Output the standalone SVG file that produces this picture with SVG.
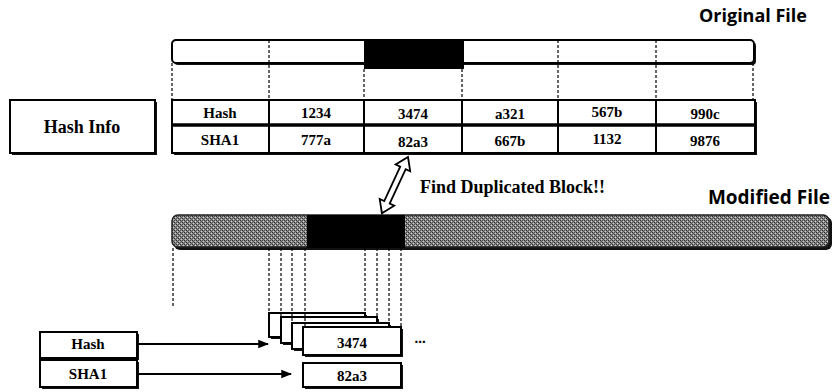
<svg xmlns="http://www.w3.org/2000/svg" width="833" height="392" viewBox="0 0 833 392">
<defs>
<style>
.box{fill:#fff;stroke:#000;stroke-width:2}
.sh{fill:#111}
.cell{font-family:"Liberation Serif","Times New Roman",serif;font-weight:bold;font-size:15px;text-anchor:middle;fill:#000}
.title{font-family:"Open Sans","Noto Sans",sans-serif;font-weight:bold;font-size:18px;text-anchor:end;fill:#000}
.dash{stroke:#000;stroke-width:1.2;stroke-dasharray:3 2;fill:none}
.grid{stroke:#000;stroke-width:2;fill:none}
.conn{stroke:#000;stroke-width:1.8;fill:none}
</style>
<pattern id="dither" width="4" height="4" patternUnits="userSpaceOnUse">
<rect width="4" height="4" fill="#8a8a8a"/>
<rect x="0" y="0" width="1" height="1" fill="#2e2e2e"/>
<rect x="2" y="2" width="1" height="1" fill="#2e2e2e"/>
<rect x="2" y="0" width="1" height="1" fill="#555"/>
<rect x="0" y="2" width="1" height="1" fill="#555"/>
<rect x="1" y="1" width="1" height="1" fill="#5a5a5a"/>
<rect x="3" y="3" width="1" height="1" fill="#5a5a5a"/>
<rect x="1" y="3" width="1" height="1" fill="#cfcfcf"/>
<rect x="3" y="1" width="1" height="1" fill="#cfcfcf"/>
</pattern>
<marker id="ah" viewBox="0 0 10 10" refX="9" refY="5" markerWidth="6" markerHeight="6" orient="auto" markerUnits="strokeWidth">
<path d="M0,1 L10,5 L0,9 Z" fill="#000"/>
</marker>
</defs>
<rect width="833" height="392" fill="#fff"/>

<g id="original-file">
<text class="title" x="807" y="22">Original File</text>
<rect x="174" y="42" width="582" height="23" rx="4" class="sh"/>
<rect x="172" y="40" width="582" height="23" rx="4" class="box"/>
<rect x="364" y="39" width="100" height="30" fill="#000"/>
</g>

<g id="hash-info">
<rect x="12" y="102" width="145" height="53" class="sh"/>
<rect x="10" y="100" width="145" height="53" class="box"/>
<text class="cell" x="82" y="133" style="font-size:18px">Hash Info</text>
</g>

<g id="hash-table">
<rect x="174" y="102" width="583" height="53" class="sh"/>
<rect x="172" y="100" width="583" height="53" class="box"/>
<line x1="172" y1="125" x2="755" y2="125" stroke="#000" stroke-width="3.5"/>
<line x1="269" y1="100" x2="269" y2="153" class="grid"/>
<line x1="364" y1="100" x2="364" y2="153" class="grid"/>
<line x1="462" y1="100" x2="462" y2="153" class="grid"/>
<line x1="558" y1="100" x2="558" y2="153" class="grid"/>
<line x1="656" y1="100" x2="656" y2="153" class="grid"/>
<text class="cell" x="220" y="118">Hash</text>
<text class="cell" x="316" y="118">1234</text>
<text class="cell" x="413" y="119">3474</text>
<text class="cell" x="510" y="119">a321</text>
<text class="cell" x="607" y="117">567b</text>
<text class="cell" x="705" y="119">990c</text>
<text class="cell" x="220" y="145">SHA1</text>
<text class="cell" x="316" y="145">777a</text>
<text class="cell" x="413" y="147">82a3</text>
<text class="cell" x="510" y="146">667b</text>
<text class="cell" x="607" y="144">1132</text>
<text class="cell" x="705" y="146">9876</text>
</g>

<g id="find-label">
<text class="cell" x="420" y="193" style="text-anchor:start;font-size:18px">Find Duplicated Block!!</text>
</g>

<g id="modified-file">
<text class="title" x="830" y="204" style="font-size:19px">Modified File</text>
<rect x="174" y="217" width="658" height="33" rx="6" fill="#111"/>
<rect x="172" y="215" width="657" height="32" rx="6" fill="url(#dither)" stroke="#222" stroke-width="1.5"/>
<rect x="307" y="215" width="98" height="33" fill="#000"/>
</g>

<g id="block-stack">
<rect x="271" y="315" width="96" height="24" class="sh"/>
<rect x="269" y="313" width="96" height="24" class="box"/>
<rect x="283" y="319" width="96" height="26" class="sh"/>
<rect x="281" y="317" width="96" height="26" class="box"/>
<rect x="294" y="325" width="97" height="26" class="sh"/>
<rect x="292" y="323" width="97" height="26" class="box"/>
<rect x="305" y="329" width="98" height="28" class="sh"/>
<rect x="303" y="327" width="98" height="28" class="box"/>
<text class="cell" x="352" y="348">3474</text>
<text class="cell" x="420" y="343">...</text>
</g>

<g id="sha-block">
<rect x="305" y="365" width="98" height="24" class="sh"/>
<rect x="303" y="363" width="98" height="24" class="box"/>
<text class="cell" x="352" y="381">82a3</text>
</g>

<g id="hash-key">
<rect x="42" y="334" width="97" height="26" class="sh"/>
<rect x="40" y="332" width="97" height="26" class="box"/>
<text class="cell" x="88" y="349">Hash</text>
</g>

<g id="sha1-key">
<rect x="42" y="362" width="97" height="27" class="sh"/>
<rect x="40" y="360" width="97" height="27" class="box"/>
<text class="cell" x="88" y="379">SHA1</text>
</g>

<g id="connectors">
<line x1="172" y1="63" x2="172" y2="100" class="dash"/>
<line x1="269" y1="40" x2="269" y2="100" class="dash"/>
<line x1="364" y1="69" x2="364" y2="100" class="dash"/>
<line x1="462" y1="69" x2="462" y2="100" class="dash"/>
<line x1="558" y1="40" x2="558" y2="100" class="dash"/>
<line x1="656" y1="40" x2="656" y2="100" class="dash"/>
<line x1="753" y1="63" x2="753" y2="100" class="dash"/>

<line x1="173" y1="248" x2="173" y2="308" class="dash"/>
<line x1="269" y1="248" x2="269" y2="313" class="dash"/>
<line x1="281" y1="248" x2="281" y2="317" class="dash"/>
<line x1="292" y1="248" x2="292" y2="323" class="dash"/>
<line x1="305" y1="248" x2="305" y2="327" class="dash"/>
<line x1="365" y1="248" x2="365" y2="313" class="dash"/>
<line x1="377" y1="248" x2="377" y2="317" class="dash"/>
<line x1="389" y1="248" x2="389" y2="323" class="dash"/>
<line x1="401" y1="248" x2="401" y2="327" class="dash"/>

<polygon transform="translate(408,157) rotate(114.9)" points="0,0 12,-8 12,-3 50,-3 50,-8 62,0 50,8 50,3 12,3 12,8" fill="#fff" stroke="#000" stroke-width="1.8" stroke-linejoin="miter"/>

<line x1="137" y1="344" x2="268" y2="344" class="conn" marker-end="url(#ah)"/>
<line x1="137" y1="374" x2="291" y2="374" class="conn" marker-end="url(#ah)"/>
</g>
</svg>
